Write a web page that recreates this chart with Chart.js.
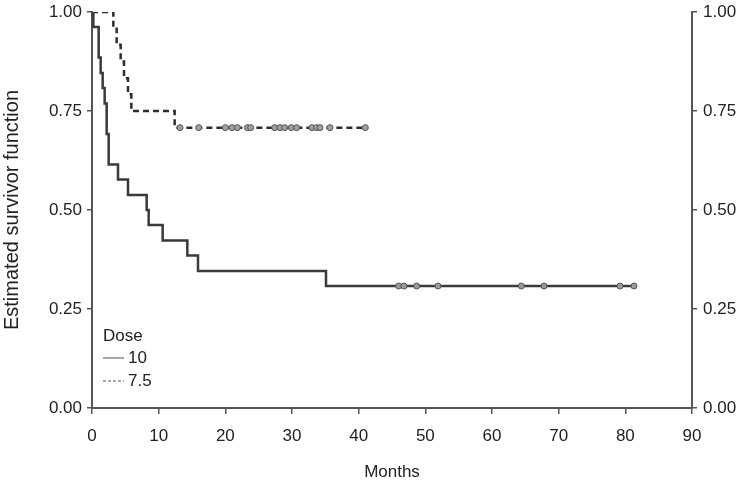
<!DOCTYPE html>
<html>
<head>
<meta charset="utf-8">
<script src="https://cdn.jsdelivr.net/npm/chart.js"></script>
<style>
  html, body { margin: 0; padding: 0; background: #fff; }
  #wrap { width: 750px; height: 487px; }
</style>
</head>
<body>
<div id="wrap"><canvas id="kmChart"></canvas></div>
<script>
    // Dose 10 (solid)
    const times10 = [0, 0.2, 1.0, 1.3, 1.6, 1.9, 2.2, 2.5, 3.9, 5.4, 8.2, 8.5, 10.6, 14.3, 15.9, 35.1, 81.5];
    const surv10  = [1.00, 0.962, 0.885, 0.846, 0.808, 0.769, 0.692, 0.615, 0.577, 0.538, 0.500, 0.462, 0.423, 0.385, 0.346, 0.308, 0.308];
    const censor10 = [46.0, 46.8, 48.7, 51.9, 64.4, 67.8, 79.2, 81.3];
    const censorLevel10 = 0.308;

    // Dose 7.5 (dashed)
    const times75 = [0, 3.2, 3.7, 4.3, 4.8, 5.4, 5.9, 12.4, 41.3];
    const surv75  = [1.00, 0.958, 0.917, 0.875, 0.833, 0.792, 0.750, 0.708, 0.708];
    const censor75 = [13.2, 16.0, 20.0, 21.0, 21.8, 23.3, 23.8, 27.4, 28.2, 28.9, 29.9, 30.7, 33.0, 33.7, 34.2, 35.7, 41.0];
    const censorLevel75 = 0.708;

    const yTicks = [0, 0.25, 0.5, 0.75, 1.0];
    const xTicks = [0, 10, 20, 30, 40, 50, 60, 70, 80, 90];

    const FONT = '"Liberation Sans", Arial, sans-serif';

    const toPts = (xs, ys) => xs.map((x, i) => ({ x: x, y: ys[i] }));
    const censorPts = (xs, level) => xs.map(x => ({ x: x, y: level }));

    // legend drawn inside the plot, bottom-left
    const doseLegend = {
        id: 'doseLegend',
        afterDraw(chart) {
            const c = chart.ctx;
            const a = chart.chartArea;
            const x0 = a.left + 11;
            c.save();
            c.font = '17px ' + FONT;
            c.fillStyle = '#222';
            c.textBaseline = 'middle';
            c.fillText('Dose', x0, a.bottom - 72);
            c.strokeStyle = '#a8a8a8';
            c.lineWidth = 2;
            c.beginPath();
            c.moveTo(x0, a.bottom - 50);
            c.lineTo(x0 + 21, a.bottom - 50);
            c.stroke();
            c.fillText(chart.data.datasets[0].label, x0 + 25, a.bottom - 50);
            c.setLineDash([3, 2]);
            c.beginPath();
            c.moveTo(x0, a.bottom - 27);
            c.lineTo(x0 + 21, a.bottom - 27);
            c.stroke();
            c.setLineDash([]);
            c.fillText(chart.data.datasets[1].label, x0 + 25, a.bottom - 27);
            c.restore();
        }
    };

    const ctx = document.getElementById('kmChart').getContext('2d');
    const kmChart = new Chart(ctx, {
        type: 'line',
        data: {
            datasets: [
                {
                    label: '10',
                    data: toPts(times10, surv10),
                    stepped: true,
                    borderColor: '#3a3a3a',
                    borderWidth: 2.5,
                    pointRadius: 0,
                    fill: false,
                    order: 2
                },
                {
                    label: '7.5',
                    data: toPts(times75, surv75),
                    stepped: true,
                    borderColor: '#2e2e2e',
                    borderWidth: 2.5,
                    borderDash: [6, 4],
                    pointRadius: 0,
                    fill: false,
                    order: 2
                },
                {
                    type: 'scatter',
                    label: 'censored 10',
                    data: censorPts(censor10, censorLevel10),
                    pointRadius: 3,
                    pointBackgroundColor: '#9a9a9a',
                    pointBorderColor: '#555',
                    pointBorderWidth: 1,
                    showLine: false,
                    order: 1
                },
                {
                    type: 'scatter',
                    label: 'censored 7.5',
                    data: censorPts(censor75, censorLevel75),
                    pointRadius: 3,
                    pointBackgroundColor: '#a0a0a0',
                    pointBorderColor: '#555',
                    pointBorderWidth: 1,
                    showLine: false,
                    order: 1
                }
            ]
        },
        options: {
            responsive: true,
            maintainAspectRatio: false,
            animation: false,
            layout: { padding: { top: 12, left: 0, right: 0, bottom: 0 } },
            plugins: {
                legend: { display: false },
                tooltip: { enabled: false }
            },
            scales: {
                x: {
                    type: 'linear',
                    min: 0,
                    max: 90,
                    afterBuildTicks: s => { s.ticks = xTicks.map(v => ({ value: v })); },
                    afterFit: s => { s.height = 79; },
                    grid: { display: true, drawOnChartArea: false, tickLength: 6, color: '#555', lineWidth: 1.5 },
                    border: { color: '#555', width: 2 },
                    ticks: { color: '#222', font: { family: FONT, size: 17 }, padding: 12, maxRotation: 0 },
                    title: { display: true, text: 'Months', color: '#222', font: { family: FONT, size: 17 }, padding: { top: 12 } }
                },
                y: {
                    position: 'left',
                    min: 0,
                    max: 1,
                    afterBuildTicks: s => { s.ticks = yTicks.map(v => ({ value: v })); },
                    afterFit: s => { s.width = 92; s.paddingTop = 0; s.paddingBottom = 0; },
                    grid: { display: true, drawOnChartArea: false, tickLength: 5, color: '#555', lineWidth: 1.5 },
                    border: { color: '#555', width: 2 },
                    ticks: { color: '#222', font: { family: FONT, size: 17 }, padding: 5, callback: v => v.toFixed(2) },
                    title: { display: true, text: 'Estimated survivor function', color: '#222', font: { family: FONT, size: 20 }, padding: { top: 0, bottom: 4 } }
                },
                y2: {
                    position: 'right',
                    min: 0,
                    max: 1,
                    afterBuildTicks: s => { s.ticks = yTicks.map(v => ({ value: v })); },
                    afterFit: s => { s.width = 58; s.paddingTop = 0; s.paddingBottom = 0; },
                    grid: { display: true, drawOnChartArea: false, tickLength: 5, color: '#555', lineWidth: 1.5 },
                    border: { color: '#555', width: 2 },
                    ticks: { color: '#222', font: { family: FONT, size: 17 }, padding: 6, callback: v => v.toFixed(2) }
                }
            }
        },
        plugins: [doseLegend]
    });
</script>
</body>
</html>
